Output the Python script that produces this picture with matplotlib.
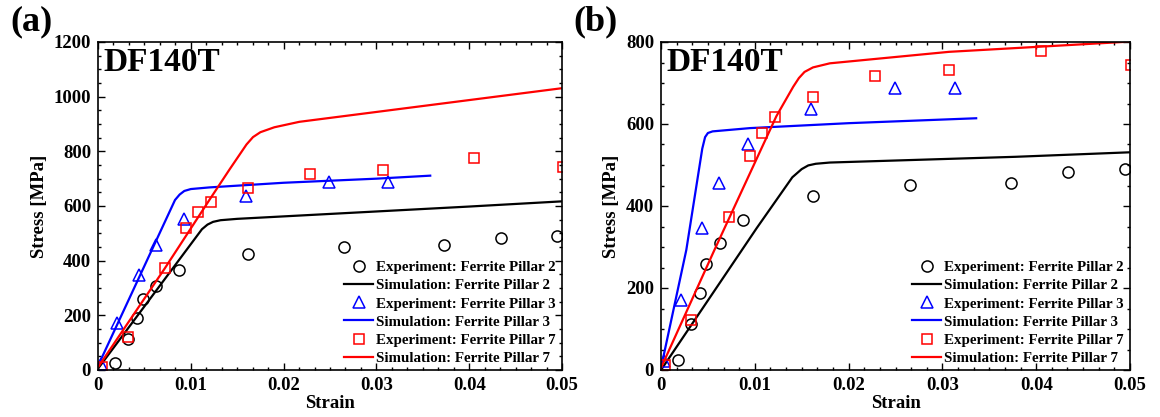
import matplotlib
matplotlib.use("Agg")
import matplotlib.pyplot as plt
from matplotlib.ticker import MultipleLocator, AutoMinorLocator, FuncFormatter

plt.rcParams['font.family'] = ['Liberation Serif', 'DejaVu Serif']
plt.rcParams['font.weight'] = 'bold'

# Experimental measurements (same pillars shown in both panels)
exp2_strain = [0.0018, 0.0032, 0.0042, 0.0048, 0.0063, 0.0087, 0.0162, 0.0265, 0.0373, 0.0434, 0.0495]
exp2_stress = [25, 113, 189, 259, 309, 365, 424, 451, 457, 482, 490]

exp3_strain = [0.0003, 0.0021, 0.0044, 0.0062, 0.0093, 0.0160, 0.0249, 0.0313]
exp3_stress = [22, 171, 347, 457, 552, 637, 689, 687]

exp7_strain = [0.0004, 0.0032, 0.0072, 0.0095, 0.0108, 0.0122, 0.0162, 0.0228, 0.0307, 0.0405, 0.0501]
exp7_stress = [12, 122, 372, 521, 577, 616, 665, 717, 732, 777, 744]

# Simulation curves, panel (a)
sim2a_strain = [0.0, 0.0112, 0.0118, 0.0124, 0.0132, 0.0150, 0.0200, 0.0300, 0.0400, 0.0500]
sim2a_stress = [5, 515, 532, 542, 548, 553, 562, 580, 598, 617]
sim3a_strain = [0.0, 0.0083, 0.0088, 0.0093, 0.0100, 0.0120, 0.0200, 0.0300, 0.0358]
sim3a_stress = [15, 622, 642, 655, 662, 668, 685, 700, 711]
sim7a_strain = [0.0, 0.0072, 0.0120, 0.0142, 0.0152, 0.0160, 0.0167, 0.0175, 0.0190, 0.0217, 0.0500]
sim7a_stress = [10, 372, 622, 735, 785, 825, 852, 870, 888, 908, 1031]

# Simulation curves, panel (b)
sim2b_strain = [0.0, 0.0102, 0.0140, 0.0150, 0.0157, 0.0165, 0.0180, 0.0265, 0.0378, 0.0500]
sim2b_stress = [0, 346, 470, 490, 499, 503, 506, 512, 520, 531]
sim3b_strain = [0.0, 0.0027, 0.0044, 0.0047, 0.0050, 0.0055, 0.0095, 0.0200, 0.0336]
sim3b_stress = [5, 293, 540, 568, 578, 582, 590, 602, 614]
sim7b_strain = [0.0, 0.0057, 0.0123, 0.0141, 0.0147, 0.0153, 0.0162, 0.0180, 0.0307, 0.0500]
sim7b_stress = [5, 293, 619, 691, 712, 727, 738, 748, 776, 801]

panels = [
    dict(tag='(a)', ymax=1200, sims=(sim2a_strain, sim2a_stress, sim3a_strain, sim3a_stress, sim7a_strain, sim7a_stress)),
    dict(tag='(b)', ymax=800, sims=(sim2b_strain, sim2b_stress, sim3b_strain, sim3b_stress, sim7b_strain, sim7b_stress)),
]

fig = plt.figure(figsize=(11.6, 4.17), dpi=100)
W, H = 1160, 417
boxes = [(98, 562), (661, 1130)]
top_px, bot_px = 42, 370

for (x0, x1), p in zip(boxes, panels):
    ax = fig.add_axes([x0 / W, 1 - bot_px / H, (x1 - x0) / W, (bot_px - top_px) / H])
    s2x, s2y, s3x, s3y, s7x, s7y = p['sims']
    ax.plot(exp2_strain, exp2_stress, 'o', ls='none', mfc='none', mec='black', ms=8, mew=1.1,
            label='Experiment: Ferrite Pillar 2')
    ax.plot(s2x, s2y, '-', color='black', lw=1.6, label='Simulation: Ferrite Pillar 2')
    ax.plot(exp3_strain, exp3_stress, '^', ls='none', mfc='none', mec='blue', ms=8.5, mew=1.1,
            label='Experiment: Ferrite Pillar 3')
    ax.plot(s3x, s3y, '-', color='blue', lw=1.6, label='Simulation: Ferrite Pillar 3')
    ax.plot(exp7_strain, exp7_stress, 's', ls='none', mfc='none', mec='red', ms=6.5, mew=1.1,
            label='Experiment: Ferrite Pillar 7')
    ax.plot(s7x, s7y, '-', color='red', lw=1.6, label='Simulation: Ferrite Pillar 7')

    ax.set_xlim(0, 0.05)
    ax.set_ylim(0, p['ymax'])
    ax.xaxis.set_major_locator(MultipleLocator(0.01))
    ax.xaxis.set_minor_locator(AutoMinorLocator(6))
    ax.yaxis.set_major_locator(MultipleLocator(200))
    ax.yaxis.set_minor_locator(AutoMinorLocator(4))
    ax.xaxis.set_major_formatter(FuncFormatter(lambda v, _: '0' if abs(v) < 1e-12 else f'{v:g}'))
    ax.tick_params(which='both', direction='in', top=True, right=True, labelsize=13.5, width=1.0)
    ax.tick_params(which='major', length=5, pad=5)
    ax.tick_params(which='minor', length=2.5)
    for lab in ax.get_xticklabels() + ax.get_yticklabels():
        lab.set_fontweight('bold')
    for sp in ax.spines.values():
        sp.set_linewidth(1.2)

    ax.set_xlabel('Strain', fontsize=13.5, fontweight='bold', labelpad=1)
    ax.set_ylabel('Stress [MPa]', fontsize=13.5, fontweight='bold', labelpad=4)
    ax.text(0.012, 0.985, 'DF140T', transform=ax.transAxes, fontsize=24, fontweight='bold',
            va='top', ha='left')
    fig.text((x0 - 88) / W, 1 - 22 / H, p['tag'], fontsize=26, fontweight='bold', va='center', ha='left')

    ax.legend(loc='lower right', bbox_to_anchor=(1 - 6 / (x1 - x0), 5 / (bot_px - top_px)),
              frameon=False, handlelength=1.95, handletextpad=0.2,
              labelspacing=0.31, borderpad=0, borderaxespad=0,
              prop={'weight': 'bold', 'size': 10.8})

fig.savefig('out.png', dpi=100)
